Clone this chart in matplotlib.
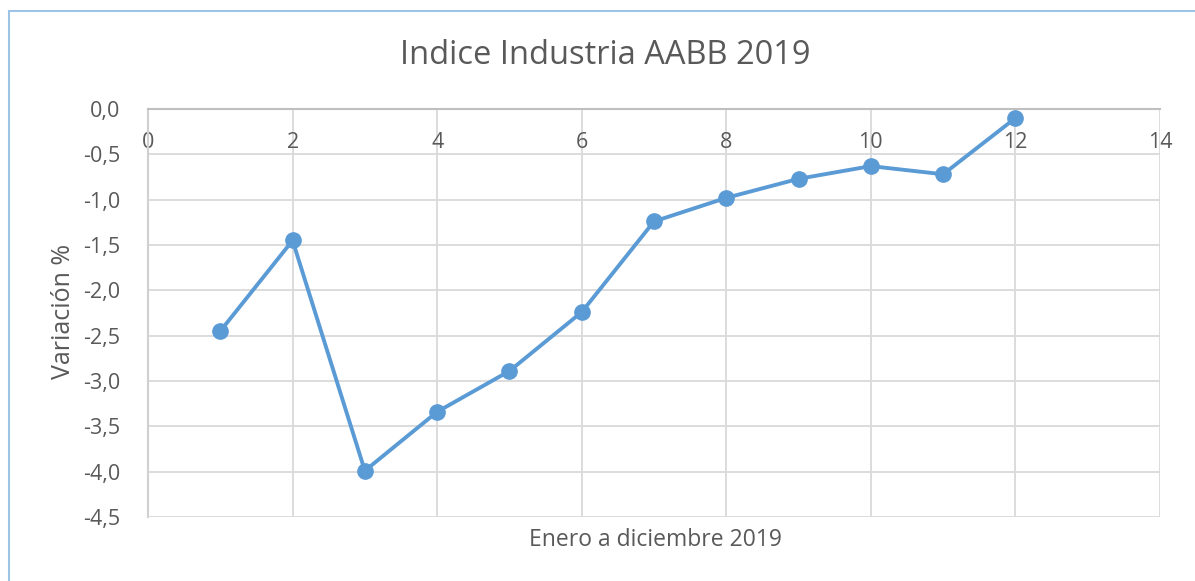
import matplotlib
matplotlib.use("Agg")
import matplotlib.pyplot as plt
from matplotlib.patches import Rectangle
from matplotlib.ticker import FuncFormatter

months = [1, 2, 3, 4, 5, 6, 7, 8, 9, 10, 11, 12]
variation = [-2.45, -1.45, -3.99, -3.34, -2.89, -2.24, -1.24, -0.98, -0.77, -0.63, -0.72, -0.10]
x_ticks = [0, 2, 4, 6, 8, 10, 12, 14]
y_ticks = [0.0, -0.5, -1.0, -1.5, -2.0, -2.5, -3.0, -3.5, -4.0, -4.5]

title = "Indice Industria AABB 2019"
xlabel = "Enero a diciembre 2019"
ylabel = "Variación %"

plt.rcParams['font.family'] = ['Open Sans', 'DejaVu Sans']
txt = '#595959'
W, H = 1195, 581
fig = plt.figure(figsize=(W / 100, H / 100), dpi=100)
ax = fig.add_axes([148 / W, 1 - 517 / H, (1160 - 148) / W, (517 - 109) / H])

ax.plot(months, variation, color='#5B9BD5', lw=2.8, marker='o', ms=11,
        markeredgecolor='#5B9BD5', markerfacecolor='#5B9BD5', zorder=3, clip_on=False)

ax.set_xlim(0, 14)
ax.set_ylim(-4.5, 0)
ax.set_xticks(x_ticks)
ax.set_yticks(y_ticks)
ax.xaxis.tick_top()
ax.yaxis.set_major_formatter(FuncFormatter(lambda v, p: f"{v:.1f}".replace('.', ',').replace('-0,0', '0,0')))
ax.tick_params(axis='x', length=0, pad=-32, labelsize=15.5, colors=txt)
ax.tick_params(axis='y', length=0, pad=20, labelsize=15.5, colors=txt)
ax.grid(True, color='#D9D9D9', lw=1.3)
ax.set_axisbelow(True)
for s in ['right', 'bottom']:
    ax.spines[s].set_visible(False)
ax.spines['top'].set_color('#BFBFBF')
ax.spines['top'].set_linewidth(1.5)
ax.spines['left'].set_color('#D0D0D0')
ax.spines['left'].set_linewidth(1.5)

fig.text(605 / W, 1 - 55 / H, title, ha='center', va='center', fontsize=23.5, color=txt)
fig.text(655 / W, 1 - 540 / H, xlabel, ha='center', va='center', fontsize=16.5, color=txt)
fig.text(63 / W, 1 - 311 / H, ylabel, ha='center', va='center', rotation=90, fontsize=18, color=txt)

fig.patches.append(Rectangle((9 / W, -0.1), 1.2, 1 - 11 / H + 0.1, transform=fig.transFigure,
                             fill=False, edgecolor='#9DC3E6', lw=1.5))

fig.savefig('out.png', dpi=100)
